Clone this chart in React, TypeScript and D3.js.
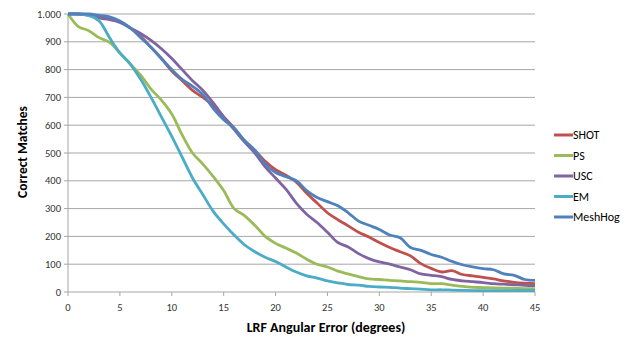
import React from "react";
import * as d3 from "d3";

// LRF angular error, degrees 0..45
const angles = d3.range(0, 46);

const shot = [1000, 1000, 998, 990, 982, 972, 950, 920, 880, 840, 795, 760, 725, 700, 670, 630, 590, 545, 510, 470, 440, 420, 395, 355, 320, 285, 260, 238, 215, 198, 178, 160, 145, 130, 102, 85, 72, 77, 63, 58, 53, 47, 40, 35, 32, 30];
const ps = [1000, 955, 940, 915, 898, 860, 820, 780, 730, 690, 640, 565, 500, 460, 415, 365, 300, 275, 240, 200, 175, 158, 140, 118, 100, 90, 75, 65, 55, 47, 45, 42, 40, 37, 35, 30, 30, 25, 20, 17, 16, 15, 14, 13, 12, 12];
const usc = [1000, 1000, 995, 985, 980, 970, 950, 930, 905, 875, 840, 800, 760, 725, 680, 630, 585, 540, 500, 450, 410, 370, 320, 280, 250, 215, 178, 162, 138, 120, 108, 100, 90, 80, 65, 60, 55, 45, 40, 37, 34, 30, 28, 26, 24, 23];
const em = [1000, 1000, 995, 975, 915, 860, 820, 765, 700, 630, 560, 485, 410, 350, 290, 245, 205, 170, 145, 125, 110, 90, 72, 58, 50, 40, 33, 27, 25, 20, 18, 17, 14, 12, 10, 8, 8, 7, 6, 5, 5, 5, 5, 5, 5, 5];
const meshHog = [1000, 1000, 1000, 995, 990, 975, 950, 915, 880, 840, 800, 765, 740, 710, 660, 620, 590, 545, 510, 460, 430, 415, 400, 365, 340, 325, 310, 285, 255, 240, 225, 205, 195, 160, 150, 135, 125, 110, 98, 90, 84, 80, 65, 60, 45, 42];

const seriesNames = ["SHOT", "PS", "USC", "EM", "MeshHog"];
const seriesValues = [shot, ps, usc, em, meshHog];
const seriesColors = ["#C0504D", "#9BBB59", "#8064A2", "#4BACC6", "#4F81BD"];

const xTicks = [0, 5, 10, 15, 20, 25, 30, 35, 40, 45];
const yTicks = [0, 100, 200, 300, 400, 500, 600, 700, 800, 900, 1000];

const font = "Carlito, 'Open Sans', 'Noto Sans', sans-serif";

export default function App() {
  const width = 636;
  const height = 338;
  const margin = { left: 68, right: 101, top: 14, bottom: 46 };

  const x = d3.scaleLinear().domain([0, 45]).range([margin.left, width - margin.right]);
  const y = d3.scaleLinear().domain([0, 1000]).range([height - margin.bottom, margin.top]);

  const line = d3
    .line<number>()
    .x((_, i) => x(angles[i]))
    .y((d) => y(d))
    .curve(d3.curveCatmullRom.alpha(0.5));

  const fmt = (v: number) => (v === 1000 ? "1.000" : String(v));

  return (
    <svg
      width={width}
      height={height}
      style={{ position: "absolute", left: 0, top: 0, background: "#fff" }}
      fontFamily={font}
    >
      {/* horizontal grid */}
      {yTicks.map((t) => (
        <line key={"g" + t} x1={x(0)} x2={x(45)} y1={y(t)} y2={y(t)} stroke="#a6a6a6" strokeWidth={1} />
      ))}
      {/* y axis */}
      <line x1={x(0)} x2={x(0)} y1={y(0)} y2={y(1000)} stroke="#a6a6a6" />
      {yTicks.map((t) => (
        <g key={"y" + t}>
          <line x1={x(0) - 4} x2={x(0)} y1={y(t)} y2={y(t)} stroke="#a6a6a6" />
          <text x={x(0) - 7} y={y(t)} dy="0.35em" textAnchor="end" fontSize={10.5} fill="#333">
            {fmt(t)}
          </text>
        </g>
      ))}
      {/* x axis */}
      {xTicks.map((t) => (
        <g key={"x" + t}>
          <line x1={x(t)} x2={x(t)} y1={y(0)} y2={y(0) + 4} stroke="#a6a6a6" />
          <text x={x(t)} y={y(0) + 19} textAnchor="middle" fontSize={10.5} fill="#333">
            {t}
          </text>
        </g>
      ))}

      {seriesValues.map((vals, i) => (
        <path key={seriesNames[i]} d={line(vals) || ""} fill="none" stroke={seriesColors[i]} strokeWidth={2.8} strokeLinejoin="round" />
      ))}

      {/* axis titles */}
      <text x={326} y={332} textAnchor="middle" fontSize={14} fontWeight="bold" fill="#000">
        LRF Angular Error (degrees)
      </text>
      <text transform={`translate(27,152) rotate(-90)`} textAnchor="middle" fontSize={13.5} fontWeight="bold" fill="#000">
        Correct Matches
      </text>

      {/* legend */}
      {seriesNames.map((name, i) => (
        <g key={"l" + name} transform={`translate(554,${135 + i * 20.5})`}>
          <line x1={0} x2={19} y1={0} y2={0} stroke={seriesColors[i]} strokeWidth={3} />
          <text x={19} y={0} dy="0.35em" fontSize={12} fill="#000">
            {name}
          </text>
        </g>
      ))}
    </svg>
  );
}
